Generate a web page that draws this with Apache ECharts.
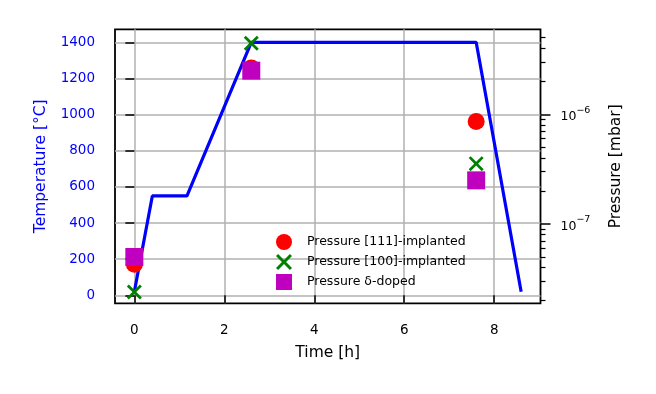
<!DOCTYPE html>
<html>
<head>
<meta charset="utf-8">
<script src="https://cdn.jsdelivr.net/npm/echarts@6/dist/echarts.min.js"></script>
<style>
html, body { margin: 0; background: #fff; }
#chart { width: 656px; height: 394px; }
</style>
</head>
<body>
<div id="chart"></div>
<script>
// anneal profile
const timeH = [0, 0.4, 1.17, 2.6, 7.6, 8.6]
const tempC = [20, 550, 550, 1400, 1400, 20]

// pressure readings (mbar)
const sampleTimeH = [0, 2.6, 7.6]
const p111 = [4.3e-8, 2.65e-6, 8.6e-7]
const p100 = [2.4e-8, 4.45e-6, 3.55e-7]
const pDelta = [5.0e-8, 2.5e-6, 2.5e-7]

// tick labels
const timeTicks = [0, 2, 4, 6, 8]
const tempTicks = [0, 200, 400, 600, 800, 1000, 1200, 1400]
const pressureDecades = [-7, -6]

const FONT = 'DejaVu Sans'
const LOG_MIN = -7.723, LOG_MAX = -5.225

// minor ticks 2..9 x 10^n on the log axis
const minorTicks = []
for (let n = -8; n <= -6; n++) {
  for (let k = 2; k <= 9; k++) {
    const v = n + Math.log10(k)
    if (v > LOG_MIN && v < LOG_MAX) minorTicks.push(v)
  }
}

function decadeLabel(v) {
  return '{b|10}{s|' + String(v).replace('-', '\u2212') + '}'
}

const X_PATH = 'path://M0,1.3L1.3,0L5,3.7L8.7,0L10,1.3L6.3,5L10,8.7L8.7,10L5,6.3L1.3,10L0,8.7L3.7,5Z'
const SQUARE_PATH = 'path://M0,0L10,0L10,10L0,10Z'

function pairs(xs, ys) {
  return xs.map((x, i) => [x, ys[i]])
}

const tickStyle = { color: '#000', width: 1.5 }

const option = {
  animation: false,
  textStyle: { fontFamily: FONT },
  grid: {
    left: 115, right: 115.5, top: 29.3, bottom: 90.7,
    show: true, borderColor: '#000', borderWidth: 1.8, backgroundColor: 'transparent'
  },
  legend: {
    orient: 'vertical',
    left: 271,
    top: 229,
    itemWidth: 36,
    itemHeight: 16,
    itemGap: 4,
    textStyle: { fontSize: 12.5, color: '#000', fontFamily: FONT },
    data: ['Pressure [111]-implanted', 'Pressure [100]-implanted', 'Pressure \u03b4-doped']
  },
  xAxis: {
    type: 'value',
    min: -0.43,
    max: 9.03,
    name: 'Time [h]',
    nameLocation: 'middle',
    nameGap: 42,
    nameTextStyle: { fontSize: 15.5, color: '#000', fontFamily: FONT },
    axisLine: { show: false },
    axisTick: { customValues: timeTicks, length: 8, lineStyle: tickStyle },
    axisLabel: { customValues: timeTicks, margin: 20, fontSize: 13.5, color: '#000', fontFamily: FONT },
    splitLine: { show: true, lineStyle: { color: '#b0b0b0', width: 1.5 } }
  },
  yAxis: [
    {
      type: 'value',
      position: 'left',
      min: -44,
      max: 1472,
      name: 'Temperature [\u00b0C]',
      nameLocation: 'middle',
      nameGap: 66,
      nameRotate: 90,
      nameTextStyle: { fontSize: 15.5, color: '#0000ff', fontFamily: FONT },
      axisLine: { show: false },
      axisTick: { customValues: tempTicks, length: 9, lineStyle: tickStyle },
      axisLabel: {
        customValues: tempTicks,
        margin: 20,
        fontSize: 13.5,
        color: '#0000ff',
        fontFamily: FONT,
        formatter: v => String(v)
      },
      splitLine: { show: true, lineStyle: { color: '#b0b0b0', width: 1.5 } }
    },
    {
      // data axis for pressure (log), drawn by helpers below
      type: 'log',
      logBase: 10,
      position: 'right',
      show: false,
      min: Math.pow(10, LOG_MIN),
      max: Math.pow(10, LOG_MAX),
      splitLine: { show: false }
    },
    {
      type: 'value',
      position: 'right',
      min: LOG_MIN,
      max: LOG_MAX,
      name: 'Pressure [mbar]',
      nameLocation: 'middle',
      nameGap: 67,
      nameRotate: 90,
      nameTextStyle: { fontSize: 15.5, color: '#000', fontFamily: FONT },
      axisLine: { show: false },
      axisTick: { customValues: pressureDecades, length: 10, lineStyle: tickStyle },
      axisLabel: {
        customValues: pressureDecades,
        margin: 20,
        formatter: decadeLabel,
        rich: {
          b: { fontSize: 12.5, lineHeight: 18, verticalAlign: 'bottom', color: '#000', fontFamily: FONT },
          s: { fontSize: 9.5, verticalAlign: 'top', color: '#000', fontFamily: FONT }
        }
      },
      splitLine: { show: false }
    },
    {
      type: 'value',
      position: 'right',
      min: LOG_MIN,
      max: LOG_MAX,
      axisLine: { show: false },
      axisTick: { customValues: minorTicks, length: 5, lineStyle: { color: '#000', width: 1.2 } },
      axisLabel: { show: false },
      splitLine: { show: false }
    }
  ],
  series: [
    {
      name: 'Temperature',
      type: 'line',
      yAxisIndex: 0,
      data: pairs(timeH, tempC),
      showSymbol: false,
      lineStyle: { color: '#0000ff', width: 3.2 },
      itemStyle: { color: '#0000ff' },
      z: 2
    },
    {
      name: 'Pressure [111]-implanted',
      type: 'scatter',
      yAxisIndex: 1,
      data: pairs(sampleTimeH, p111),
      symbol: 'circle',
      symbolSize: 17,
      itemStyle: { color: '#ff0000', opacity: 1 },
      z: 3
    },
    {
      name: 'Pressure [100]-implanted',
      type: 'scatter',
      yAxisIndex: 1,
      data: pairs(sampleTimeH, p100),
      symbol: X_PATH,
      symbolSize: 15,
      itemStyle: { color: '#008000', opacity: 1 },
      z: 4
    },
    {
      name: 'Pressure \u03b4-doped',
      type: 'scatter',
      yAxisIndex: 1,
      data: pairs(sampleTimeH, pDelta),
      symbol: SQUARE_PATH,
      symbolSize: 18,
      itemStyle: { color: '#bf00bf', opacity: 1 },
      z: 5
    }
  ]
}

const chart = echarts.init(document.getElementById('chart'), null, { renderer: 'canvas' })
chart.setOption(option)
</script>
</body>
</html>
